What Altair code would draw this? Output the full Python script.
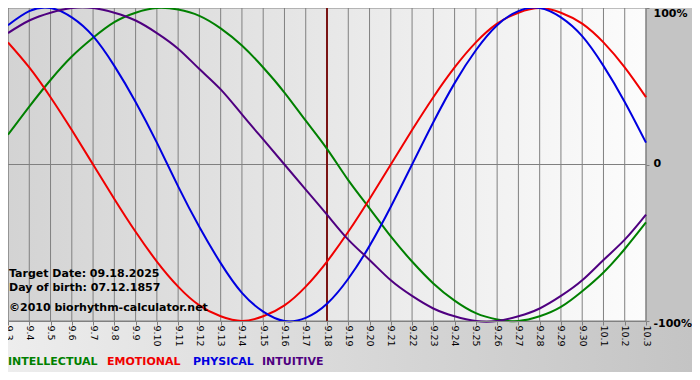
import altair as alt
import pandas as pd

# ---------------- data ----------------
days = ["9.3", "9.4", "9.5", "9.6", "9.7", "9.8", "9.9", "9.10", "9.11", "9.12",
        "9.13", "9.14", "9.15", "9.16", "9.17", "9.18", "9.19", "9.20", "9.21",
        "9.22", "9.23", "9.24", "9.25", "9.26", "9.27", "9.28", "9.29", "9.30",
        "10.1", "10.2", "10.3"]

intellectual = [0.19, 0.37, 0.54, 0.69, 0.81, 0.91, 0.97, 1.00, 0.99, 0.95,
                0.87, 0.76, 0.62, 0.46, 0.28, 0.10, -0.10, -0.28, -0.46, -0.62,
                -0.76, -0.87, -0.95, -0.99, -1.00, -0.97, -0.91, -0.81, -0.69,
                -0.54, -0.37]
emotional = [0.78, 0.62, 0.43, 0.22, 0.00, -0.22, -0.43, -0.62, -0.78, -0.90,
             -0.97, -1.00, -0.97, -0.90, -0.78, -0.62, -0.43, -0.22, 0.00, 0.22,
             0.43, 0.62, 0.78, 0.90, 0.97, 1.00, 0.97, 0.90, 0.78, 0.62, 0.43]
physical = [0.89, 0.98, 1.00, 0.94, 0.82, 0.63, 0.40, 0.14, -0.14, -0.40,
            -0.63, -0.82, -0.94, -1.00, -0.98, -0.89, -0.73, -0.52, -0.27, 0.00,
            0.27, 0.52, 0.73, 0.89, 0.98, 1.00, 0.94, 0.82, 0.63, 0.40, 0.14]
intuitive = [0.84, 0.92, 0.97, 1.00, 1.00, 0.97, 0.92, 0.84, 0.74, 0.61,
             0.48, 0.32, 0.16, 0.00, -0.16, -0.32, -0.48, -0.61, -0.74, -0.84,
             -0.92, -0.97, -1.00, -1.00, -0.97, -0.92, -0.84, -0.74, -0.61,
             -0.48, -0.32]

series_names = ["INTELLECTUAL", "EMOTIONAL", "PHYSICAL", "INTUITIVE"]
series_colors = ["#008000", "#f00000", "#0000e0", "#4f0080"]
series_values = [intellectual, emotional, physical, intuitive]

target_day = "9.18"
y_ticks = [-1, 0, 1]
y_tick_labels = ["-100%", "0", "100%"]
annotations = ["Target Date: 09.18.2025", "Day of birth: 07.12.1857",
               "\u00a92010 biorhythm-calculator.net"]

# ---------------- layout / style ----------------
W, H = 638, 313
PAD_R, PAD_B = 46, 51
GRID = "#808080"
FONT = "DejaVu Sans"

rows = []
for name, vals in zip(series_names, series_values):
    for d, v in zip(days, vals):
        rows.append({"day": d, "value": v, "series": name})
lines_df = pd.DataFrame(rows)
days_df = pd.DataFrame({"day": days})
one = pd.DataFrame({"k": [0]})

label_expr = " : ".join(
    f"datum.value == {v} ? '{t}'" for v, t in zip(y_ticks[:-1], y_tick_labels[:-1])
) + f" : '{y_tick_labels[-1]}'"

x_enc = alt.X(
    "day:O",
    sort=days,
    scale=alt.Scale(type="point", padding=0, domain=days),
    axis=alt.Axis(
        title=None, grid=False, labelAngle=90, labelAlign="left",
        labelBaseline="middle", labelFont=FONT, labelFontSize=9.5,
        labelColor="#000000", labelPadding=0, tickSize=4, tickColor=GRID,
        domainColor=GRID, zindex=1, labelOverlap=False,
    ),
)
y_enc = alt.Y(
    "value:Q",
    scale=alt.Scale(domain=[-1, 1], nice=False, zero=False),
    axis=alt.Axis(
        orient="right", title=None, grid=False, values=y_ticks,
        labelExpr=label_expr, domain=False, tickSize=3, tickColor=GRID,
        labelPadding=4, labelFont=FONT, labelFontWeight="bold",
        labelFontSize=11, labelColor="#000000", labelAlign="left",
        labelBaseline="middle",
        labelOffset={"condition": [{"test": "datum.value == 1", "value": 5},
                                   {"test": "datum.value == 0", "value": -1}],
                     "value": 2},
        labelFlush=False, zindex=1,
    ),
)

bottom_bg = alt.Chart(one).mark_rect(
    fill=alt.Gradient(
        gradient="linear",
        stops=[alt.GradientStop(color="#ededed", offset=0),
               alt.GradientStop(color="#c4c4c4", offset=1)],
        x1=0, x2=1, y1=0, y2=0,
    )
).encode(x=alt.value(0), x2=alt.value(W + PAD_R), y=alt.value(H), y2=alt.value(H + PAD_B))

plot_bg = alt.Chart(one).mark_rect(
    fill=alt.Gradient(
        gradient="linear",
        stops=[alt.GradientStop(color="#d3d3d3", offset=0),
               alt.GradientStop(color="#fcfcfc", offset=1)],
        x1=0, x2=1, y1=0, y2=0,
    )
).encode(x=alt.value(0), x2=alt.value(W), y=alt.value(0), y2=alt.value(H))

grid_rules = alt.Chart(days_df).mark_rule(color=GRID, strokeWidth=1).encode(
    x=x_enc, y=alt.value(0), y2=alt.value(H)
)

zero_rule = alt.Chart(pd.DataFrame({"value": [0]})).mark_rule(
    color=GRID, strokeWidth=1
).encode(y=y_enc, x=alt.value(0), x2=alt.value(W))

border = alt.Chart(one).mark_rect(
    fillOpacity=0, stroke=GRID, strokeWidth=1
).encode(x=alt.value(0), x2=alt.value(W), y=alt.value(0), y2=alt.value(H))

target_rule = alt.Chart(pd.DataFrame({"day": [target_day]})).mark_rule(
    color="#7a1414", strokeWidth=2
).encode(x=x_enc, y=alt.value(0), y2=alt.value(H))

curves = alt.Chart(lines_df).mark_line(
    interpolate="natural", strokeWidth=2
).encode(
    x=x_enc,
    y=y_enc,
    color=alt.Color("series:N",
                    scale=alt.Scale(domain=series_names, range=series_colors),
                    legend=None),
    detail="series:N",
    order=alt.value(0),
)

text_layers = []
for txt, ypos in zip(annotations, [269, 283, 303]):
    text_layers.append(
        alt.Chart(one).mark_text(
            text=txt, align="left", baseline="alphabetic", font=FONT,
            fontWeight="bold", fontSize=11, color="#000000",
        ).encode(x=alt.value(1), y=alt.value(ypos))
    )

legend_layers = []
for name, col, xpos in zip(series_names, series_colors, [0, 99, 185, 254]):
    legend_layers.append(
        alt.Chart(one).mark_text(
            text=name, align="left", baseline="alphabetic", font=FONT,
            fontWeight="bold", fontSize=11, color=col,
        ).encode(x=alt.value(xpos), y=alt.value(H + 44))
    )

chart = alt.layer(
    bottom_bg, plot_bg, grid_rules, zero_rule, border, target_rule, curves,
    *text_layers, *legend_layers,
).properties(
    width=W,
    height=H,
    padding={"left": 0, "top": 0, "right": PAD_R, "bottom": PAD_B},
    autosize=alt.AutoSizeParams(type="none"),
    background="#c4c4c4",
).configure_view(strokeWidth=0)

chart.save("out.html", embed_options={"renderer": "svg", "actions": False})
